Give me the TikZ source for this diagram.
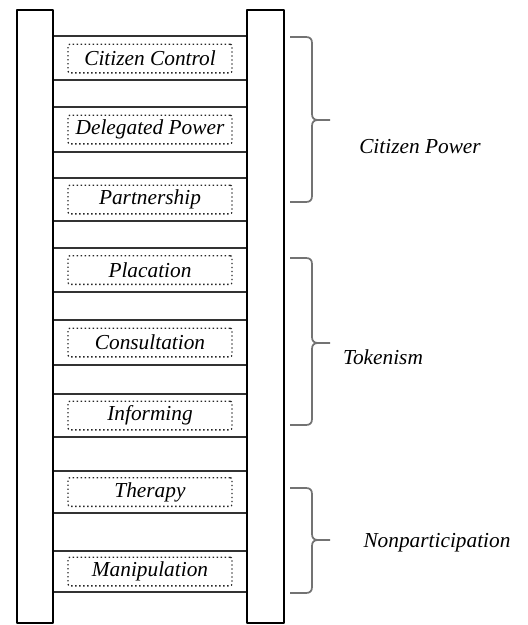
\documentclass[tikz,border=0pt]{standalone}
\usepackage{fontspec}
\setmainfont{Liberation Serif}
\usepackage{tikz}

\begin{document}
\begin{tikzpicture}[x=0.75pt,y=0.75pt,yscale=-1,xscale=1,
  rail/.style={draw=black,line width=2.2pt,line join=round},
  rung/.style={draw=black!80,line width=1.4pt},
  rungtext/.style={draw=black!85,dotted,line width=1pt,rounded corners=1.5pt,minimum width=123pt,minimum height=21.5pt,inner sep=0pt,font=\fontsize{16}{19}\selectfont\itshape},
  bracket/.style={draw=black!55,line width=1.3pt},
  grouptext/.style={inner sep=0.75pt,font=\fontsize{16}{19}\selectfont\itshape}]
\useasboundingbox (0,0) rectangle (528,625);

%Shape: Rectangle
\draw [rung]  (53,36) rectangle (247,80) ;
%Shape: Rectangle
\draw [rung]  (53,107) rectangle (247,152) ;
%Shape: Rectangle
\draw [rung]  (53,178) rectangle (247,221) ;
%Shape: Rectangle
\draw [rung]  (53,248) rectangle (247,292) ;
%Shape: Rectangle
\draw [rung]  (53,320) rectangle (247,365) ;
%Shape: Rectangle
\draw [rung]  (53,394) rectangle (247,437) ;
%Shape: Rectangle
\draw [rung]  (53,471) rectangle (247,513) ;
%Shape: Rectangle
\draw [rung]  (53,551) rectangle (247,592) ;

%Shape: Rectangle
\draw [rail]  (17,10) rectangle (53,623) ;
%Shape: Rectangle
\draw [rail]  (247,10) rectangle (284,623) ;

%Shape: Right Brace
\draw [bracket]  (290,37) -- (306,37) .. controls (310,37) and (312,39) .. (312,43) -- (312,114) .. controls (312,118) and (314,120) .. (318,120) -- (330,120) (318,120) .. controls (314,120) and (312,122) .. (312,126) -- (312,196) .. controls (312,200) and (310,202) .. (306,202) -- (290,202) ;
%Shape: Right Brace
\draw [bracket]  (290,258) -- (306,258) .. controls (310,258) and (312,260) .. (312,264) -- (312,337) .. controls (312,341) and (314,343) .. (318,343) -- (330,343) (318,343) .. controls (314,343) and (312,345) .. (312,349) -- (312,419) .. controls (312,423) and (310,425) .. (306,425) -- (290,425) ;
%Shape: Right Brace
\draw [bracket]  (290,488) -- (306,488) .. controls (310,488) and (312,490) .. (312,494) -- (312,534) .. controls (312,538) and (314,540) .. (318,540) -- (330,540) (318,540) .. controls (314,540) and (312,542) .. (312,546) -- (312,587) .. controls (312,591) and (310,593) .. (306,593) -- (290,593) ;

% Text Node
\draw (150,58.5) node [rungtext] (control) {Citizen Control};
% Text Node
\draw (150,129.5) node [rungtext] (delegated) {Delegated Power};
% Text Node
\draw (150,199.5) node [rungtext] (partnership) {Partnership};
% Text Node
\draw (150,270) node [rungtext] (placation) {Placation};
% Text Node
\draw (150,342.5) node [rungtext] (consultation) {Consultation};
% Text Node
\draw (150,415.5) node [rungtext] (informing) {Informing};
% Text Node
\draw (150,492) node [rungtext] (therapy) {Therapy};
% Text Node
\draw (150,571.5) node [rungtext] (manipulation) {Manipulation};

% Text Node
\draw (420,147) node [grouptext] (power) {Citizen Power};
% Text Node
\draw (383,357) node [grouptext] (tokenism) {Tokenism};
% Text Node
\draw (437,543) node [grouptext] (nonpart) {Nonparticipation};

\end{tikzpicture}
\end{document}
